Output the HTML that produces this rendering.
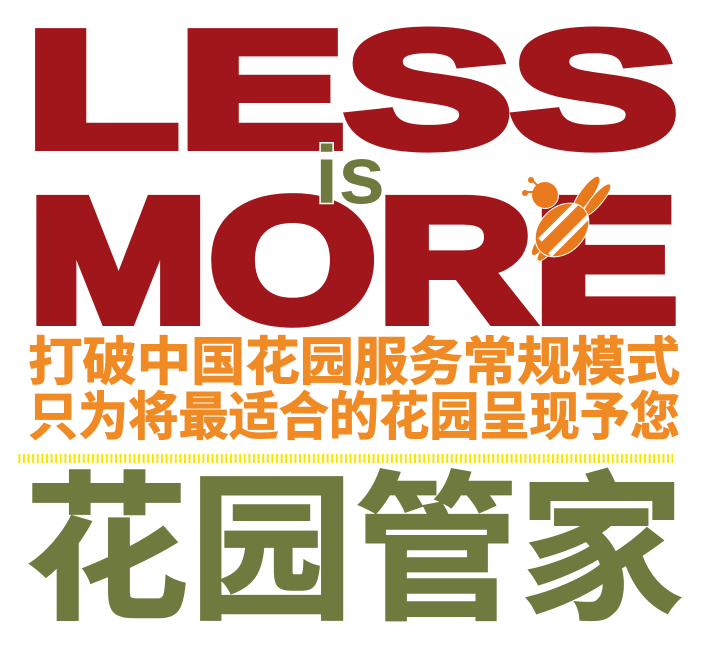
<!DOCTYPE html>
<html><head><meta charset="utf-8"><style>
html,body{margin:0;padding:0;background:#fff;width:703px;height:646px;overflow:hidden}
svg{display:block}
</style></head><body>
<svg width="703" height="646" viewBox="0 0 703 646">
<defs>
<pattern id="dots" width="4.6" height="10" patternUnits="userSpaceOnUse"><rect x="0" y="0" width="2" height="10" fill="#f5e600"/></pattern>
<clipPath id="beeclip"><ellipse cx="562" cy="230" rx="30" ry="22" transform="rotate(-45 562 230)"/></clipPath>
</defs>
<text x="26" y="146" textLength="652" lengthAdjust="spacingAndGlyphs" font-family="Liberation Sans, sans-serif" font-weight="bold" font-size="164" fill="#a0161a" stroke="#a0161a" stroke-width="10" stroke-linejoin="miter">LESS</text>
<text x="28" y="321" textLength="650" lengthAdjust="spacingAndGlyphs" font-family="Liberation Sans, sans-serif" font-weight="bold" font-size="176" fill="#a0161a" stroke="#a0161a" stroke-width="10" stroke-linejoin="miter">MORE</text>
<text x="315" y="203" textLength="70" lengthAdjust="spacingAndGlyphs" font-family="Liberation Sans, sans-serif" font-weight="bold" font-size="82" fill="#6f7a3f" stroke="#fff" stroke-width="3" paint-order="stroke">is</text>
<g stroke="#fff" stroke-width="2" paint-order="stroke">
<ellipse cx="586" cy="195" rx="6" ry="22" transform="rotate(35 586 195)" fill="#e9791d"/>
<ellipse cx="597" cy="200" rx="5" ry="20" transform="rotate(40 597 200)" fill="#e9791d"/>
<ellipse cx="551" cy="245" rx="5" ry="20" transform="rotate(40 551 245)" fill="#e9791d"/>
<ellipse cx="543" cy="240" rx="5" ry="18" transform="rotate(35 543 240)" fill="#e9791d"/>
<circle cx="545" cy="195" r="13" fill="#e9791d"/>
<line x1="538" y1="186" x2="532" y2="180" stroke="#e9791d"/><circle cx="531" cy="180" r="3" fill="#e9791d" stroke="none"/>
<line x1="535" y1="192" x2="526" y2="192" stroke="#e9791d"/><circle cx="525" cy="193" r="3" fill="#e9791d" stroke="none"/>
<ellipse cx="562" cy="230" rx="30" ry="22" transform="rotate(-45 562 230)" fill="#e9791d"/>
<g clip-path="url(#beeclip)" stroke="#fff" stroke-width="5">
<line x1="530" y1="225" x2="570" y2="185"/><line x1="540" y1="240" x2="580" y2="200"/><line x1="550" y1="255" x2="590" y2="215"/><line x1="560" y1="268" x2="600" y2="228"/>
</g>
</g>
<text x="28" y="380" textLength="652" lengthAdjust="spacingAndGlyphs" font-family="Liberation Sans, Noto Sans CJK SC, sans-serif" font-weight="bold" font-size="52" fill="#f08a24" stroke="#f08a24" stroke-width="1">打破中国花园服务常规模式</text>
<text x="28" y="435" textLength="652" lengthAdjust="spacingAndGlyphs" font-family="Liberation Sans, Noto Sans CJK SC, sans-serif" font-weight="bold" font-size="52" fill="#f08a24" stroke="#f08a24" stroke-width="1">只为将最适合的花园呈现予您</text>
<rect x="18" y="454" width="655" height="9" fill="url(#dots)"/>
<text x="24" y="606" textLength="660" lengthAdjust="spacingAndGlyphs" font-family="Liberation Sans, Noto Sans CJK SC, sans-serif" font-weight="bold" font-size="160" fill="#6f7a3f" stroke="#6f7a3f" stroke-width="1.5">花园管家</text>
</svg>
</body></html>
